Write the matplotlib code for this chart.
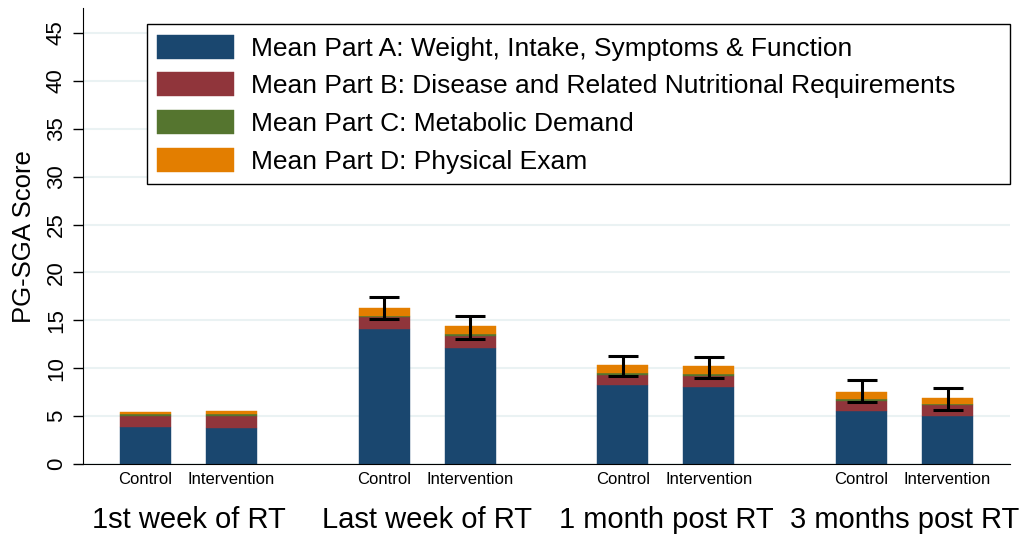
import matplotlib
matplotlib.use('Agg')
import matplotlib.pyplot as plt
import numpy as np

plt.rcParams['font.family'] = ['Liberation Sans', 'DejaVu Sans']

# data
groups = ['1st week of RT', 'Last week of RT', '1 month post RT', '3 months post RT']
arms = ['Control', 'Intervention']
part_a = [3.86, 3.79, 14.1, 12.1, 8.25, 8.0, 5.53, 5.01]
part_b = [1.18, 1.25, 1.2, 1.3, 1.08, 1.22, 1.07, 1.15]
part_c = [0.21, 0.21, 0.15, 0.14, 0.17, 0.14, 0.15, 0.14]
part_d = [0.15, 0.32, 0.85, 0.9, 0.8, 0.87, 0.77, 0.62]
err_lo = [None, None, 15.14, 13.09, 9.15, 9.0, 6.44, 5.64]
err_hi = [None, None, 17.47, 15.42, 11.3, 11.17, 8.74, 7.97]
labels = ['Mean Part A: Weight, Intake, Symptoms & Function',
          'Mean Part B: Disease and Related Nutritional Requirements',
          'Mean Part C: Metabolic Demand',
          'Mean Part D: Physical Exam']
colors = ['#1a476f', '#90353b', '#55752f', '#e37e00']

step = 2.776
pos = []
for g in range(len(groups)):
    pos += [g * step, g * step + 1]
pos = np.array(pos)

fig = plt.figure(figsize=(10.24, 5.41), dpi=100)
ax = fig.add_axes([0.081, 0.1423, 0.905, 0.8427])

bottom = np.zeros(len(pos))
handles = []
for vals, c, lab in zip([part_a, part_b, part_c, part_d], colors, labels):
    b = ax.bar(pos, vals, width=0.593, bottom=bottom, color=c, label=lab,
               edgecolor=c, linewidth=0.3, zorder=2)
    handles.append(b)
    bottom = bottom + np.array(vals)

for x, lo, hi in zip(pos, err_lo, err_hi):
    if lo is None:
        continue
    mid = (lo + hi) / 2
    ax.errorbar(x, mid, yerr=(hi - lo) / 2, color='black', lw=2.2,
                capsize=11, capthick=2.2, zorder=3)

ax.set_ylim(0, 47.6)
ax.set_xlim(-0.727, 10.05)
ax.set_yticks(range(0, 50, 5))
ax.tick_params(axis='y', labelsize=16, length=7.5, width=1, rotation=90, pad=4)
for t in ax.get_yticklabels():
    t.set_va('center')
ax.set_ylabel('PG-SGA Score', fontsize=18.5, labelpad=7)
ax.yaxis.grid(True, color='#eaf2f3', lw=1.5, zorder=0)
ax.set_axisbelow(True)

ax.set_xticks(pos)
ax.set_xticklabels(arms * len(groups), fontsize=12)
ax.tick_params(axis='x', length=0, pad=6)

for g, name in enumerate(groups):
    ax.text(g * step + 0.5, -0.123, name, transform=ax.get_xaxis_transform(),
            ha='center', va='center', fontsize=21)

for s in ['top', 'right']:
    ax.spines[s].set_visible(False)

leg = ax.legend(handles=handles, loc='upper left', fontsize=19,
                bbox_to_anchor=(0.069, 0.965, 0.931, 0.0), mode='expand',
                fancybox=False, edgecolor='black', framealpha=1,
                handlelength=2.92, handleheight=1.02, labelspacing=0.445,
                handletextpad=0.64, borderpad=0.4, borderaxespad=0)
leg.get_frame().set_linewidth(1)

fig.savefig('out.png', dpi=100)
